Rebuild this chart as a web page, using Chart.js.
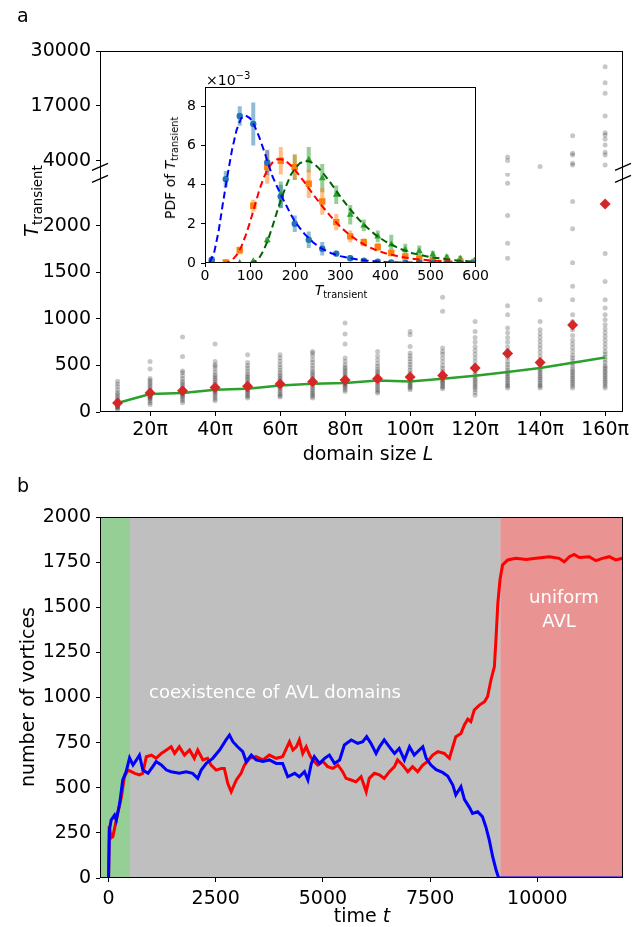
<!DOCTYPE html>
<html>
<head>
<meta charset="utf-8">
<script src="https://cdn.jsdelivr.net/npm/chart.js@4.4.1/dist/chart.umd.min.js"></script>
<style>
  body { margin: 0; background: #fff; }
  #page { position: relative; width: 635px; height: 927px; overflow: hidden; font-family: 'DejaVu Sans', sans-serif; }
  canvas { position: absolute; }
  .lbl { position: absolute; white-space: nowrap; line-height: 1; color: #000; }
  .rot { transform: translate(-50%, -50%) rotate(-90deg); }
  .ctr { transform: translateX(-50%); }
  .sub { position: relative; top: 0.3em; }
</style>
</head>
<body>
<div id="page">
  <canvas id="chartA" style="left:0;top:0" width="635" height="470"></canvas>
  <canvas id="chartInset" style="left:150px;top:60px" width="340" height="250"></canvas>
  <canvas id="chartB" style="left:0;top:470px" width="635" height="457"></canvas>

  <div class="lbl" style="left:17px;top:6px;font-size:19px">a</div>
  <div class="lbl" style="left:17px;top:476px;font-size:19px">b</div>

  <div class="lbl rot" style="left:31px;top:201px;font-size:19px"><i>T</i><span class="sub" style="font-size:13.3px">transient</span></div>
  <div class="lbl ctr" style="left:368px;top:444px;font-size:19px">domain size <i>L</i></div>

  <div class="lbl" style="left:206px;top:71px;font-size:14px">×10<sup style="font-size:10px">−3</sup></div>
  <div class="lbl rot" style="left:170px;top:168px;font-size:14px">PDF of <i>T</i><span class="sub" style="font-size:9.8px">transient</span></div>
  <div class="lbl ctr" style="left:341px;top:283px;font-size:14px"><i>T</i><span class="sub" style="font-size:9.8px">transient</span></div>

  <div class="lbl rot" style="left:27px;top:697px;font-size:19px">number of vortices</div>
  <div class="lbl ctr" style="left:362px;top:906px;font-size:19px">time <i>t</i></div>
  <div class="lbl ctr" style="left:275px;top:683px;font-size:18px;color:#fff">coexistence of AVL domains</div>
  <div class="lbl ctr" style="left:564px;top:588px;font-size:18px;color:#fff">uniform</div>
  <div class="lbl ctr" style="left:559px;top:612px;font-size:18px;color:#fff">AVL</div>
</div>

<script>
// ---- panel a: transient time vs domain size (L in units of pi) ----
const domainSizes = [10, 20, 30, 40, 50, 60, 70, 80, 90, 100, 110, 120, 130, 140, 150, 160];
const meanTransient = [96, 204, 228, 264, 275, 300, 325, 343, 357, 375, 392, 471, 628, 532, 932, 2232];
const trendTransient = [96, 193, 204, 239, 250, 285, 303, 311, 339, 328, 357, 389, 429, 471, 528, 585];
const runTransients = [
  [25, 40, 50, 60, 70, 80, 85, 95, 100, 110, 120, 130, 150, 170, 190, 210, 240, 270, 300, 330],
  [80, 100, 120, 140, 150, 160, 170, 180, 190, 200, 210, 220, 230, 240, 260, 280, 300, 320, 340, 360, 461, 542],
  [100, 120, 140, 160, 175, 190, 200, 210, 220, 235, 250, 270, 290, 310, 330, 360, 390, 420, 440, 596, 804],
  [120, 140, 160, 180, 200, 215, 230, 245, 260, 280, 300, 320, 340, 360, 380, 400, 430, 460, 490, 507, 542, 729],
  [150, 165, 180, 200, 215, 230, 245, 260, 275, 290, 310, 330, 350, 370, 390, 410, 440, 470, 500, 532, 614],
  [160, 175, 190, 210, 230, 250, 265, 280, 295, 310, 325, 340, 360, 380, 400, 425, 450, 480, 510, 545, 578, 614],
  [150, 165, 185, 200, 220, 240, 260, 280, 300, 315, 330, 345, 360, 380, 400, 420, 440, 470, 500, 530, 560, 600, 630, 650],
  [220, 240, 260, 275, 290, 305, 320, 335, 350, 365, 380, 400, 420, 440, 460, 480, 507, 542, 579, 729, 836, 954],
  [204, 220, 240, 260, 280, 300, 320, 340, 360, 380, 400, 420, 440, 460, 490, 520, 560, 600, 650],
  [240, 255, 270, 285, 300, 315, 330, 345, 360, 380, 400, 420, 450, 480, 510, 540, 570, 600, 632, 703, 829, 864],
  [250, 265, 280, 300, 315, 330, 345, 360, 380, 400, 420, 440, 470, 500, 540, 580, 620, 650, 686, 1080, 1230],
  [180, 210, 240, 260, 280, 300, 320, 340, 360, 380, 400, 430, 460, 500, 540, 580, 620, 660, 700, 750, 800, 864, 971],
  [257, 275, 290, 310, 330, 350, 370, 390, 410, 430, 450, 480, 510, 540, 580, 620, 660, 700, 750, 800, 850, 900, 1043, 1139, 1650, 1810, 2107, 2454, 2550, 4100, 4900],
  [257, 275, 290, 310, 330, 350, 370, 390, 410, 430, 450, 470, 500, 530, 560, 600, 640, 680, 720, 760, 800, 840, 882, 971, 1204, 2650],
  [257, 280, 300, 320, 340, 360, 380, 400, 420, 440, 460, 490, 520, 550, 580, 610, 650, 690, 730, 770, 820, 882, 971, 1043, 1204, 1350, 1600, 1965, 2257, 3050, 3460, 5420, 5820, 9980],
  [257, 280, 300, 320, 340, 360, 380, 400, 420, 440, 460, 480, 500, 530, 560, 590, 620, 650, 690, 730, 770, 810, 850, 890, 935, 989, 1043, 1115, 1204, 1400, 1700, 3050, 5420, 6060, 7780, 9200, 10150, 10690, 14640, 20000, 22500, 26290]
];
const sizeTicks = [20, 40, 60, 80, 100, 120, 140, 160];
const lowTicks = [0, 500, 1000, 1500, 2000];
const highTicks = [4000, 17000, 30000];

// ---- inset: PDFs of the transient time (units of 1e-3) ----
const pdfBins = [15, 46, 77, 107, 138, 168, 199, 230, 260, 291, 322, 352, 383, 413, 444, 475, 505, 536, 566, 597];
const pdfBlue = [0.17, 4.29, 7.52, 7.11, 5.14, 3.40, 2.01, 1.19, 0.73, 0.48, 0.24, 0.12, 0.07, 0.03, 0.02, 0.01, 0.01, 0, 0, 0];
const errBlue = [0.1, 0.42, 0.5, 1.1, 0.65, 0.6, 0.42, 0.42, 0.35, 0.15, 0.15, 0.1, 0.05, 0.05, 0.03, 0.03, 0.02, 0, 0, 0];
const pdfOrange = [0, 0.03, 0.65, 2.93, 4.9, 5.23, 4.9, 4.05, 3.15, 2.09, 1.36, 1.06, 0.82, 0.51, 0.34, 0.22, 0.15, 0.1, 0.07, 0.05];
const errOrange = [0, 0.05, 0.2, 0.3, 0.85, 0.7, 0.65, 0.72, 0.68, 0.42, 0.3, 0.2, 0.2, 0.15, 0.12, 0.1, 0.08, 0.08, 0.08, 0.08];
const pdfGreen = [0, 0, 0, 0.09, 1.16, 3.49, 4.9, 5.28, 4.34, 3.49, 2.47, 1.92, 1.36, 0.94, 0.68, 0.6, 0.43, 0.29, 0.22, 0.12];
const errGreen = [0, 0, 0, 0.05, 0.15, 0.68, 0.65, 0.65, 0.72, 0.47, 0.5, 0.3, 0.3, 0.5, 0.3, 0.3, 0.2, 0.15, 0.15, 0.1];
const fitT = [0, 10, 20, 30, 40, 50, 60, 70, 80, 90, 100, 110, 120, 130, 140, 150, 160, 170, 180, 190, 200, 210, 220, 230, 240, 250, 260, 280, 300, 320, 340, 360, 380, 400, 430, 460, 500, 550, 600];
const fitBlue = [null, 0.02, 0.5, 1.6, 3.1, 4.5, 5.8, 6.8, 7.4, 7.55, 7.4, 7.0, 6.45, 5.8, 5.1, 4.4, 3.9, 3.4, 2.95, 2.5, 2.1, 1.8, 1.5, 1.27, 1.05, 0.87, 0.72, 0.5, 0.35, 0.25, 0.17, 0.12, 0.08, 0.05, 0.03, 0.02, 0.01, 0, 0];
const fitRed = [null, null, null, null, 0, 0.03, 0.15, 0.4, 0.8, 1.4, 2.1, 2.9, 3.7, 4.35, 4.85, 5.15, 5.3, 5.3, 5.2, 5.0, 4.75, 4.45, 4.15, 3.82, 3.5, 3.2, 2.9, 2.35, 1.85, 1.45, 1.12, 0.85, 0.65, 0.5, 0.33, 0.22, 0.13, 0.06, 0.03];
const fitGreen = [null, null, null, null, null, null, null, null, null, null, 0, 0.05, 0.25, 0.65, 1.2, 1.9, 2.65, 3.35, 3.95, 4.5, 4.85, 5.1, 5.2, 5.2, 5.1, 4.9, 4.65, 4.05, 3.4, 2.8, 2.25, 1.8, 1.4, 1.1, 0.75, 0.5, 0.3, 0.15, 0.07];
const pdfTicksX = [0, 100, 200, 300, 400, 500, 600];
const pdfTicksY = [0, 2, 4, 6, 8];

// ---- panel b: vortex counts in time ----
const redTimes = [0, 15, 60, 100, 180, 300, 370, 450, 530, 610, 720, 800, 880, 1000, 1110, 1230, 1350, 1460, 1540, 1650, 1770, 1890, 2000, 2080, 2200, 2310, 2390, 2510, 2630, 2700, 2780, 2860, 2980, 3090, 3170, 3290, 3440, 3600, 3750, 3910, 4060, 4220, 4300, 4380, 4450, 4530, 4610, 4690, 4760, 4880, 5000, 5110, 5230, 5350, 5460, 5540, 5660, 5770, 5890, 6010, 6080, 6200, 6320, 6430, 6550, 6670, 6740, 6860, 6980, 7090, 7210, 7330, 7440, 7560, 7680, 7830, 7950, 8030, 8100, 8220, 8300, 8380, 8450, 8530, 8650, 8770, 8840, 8920, 9000, 9040, 9080, 9130, 9190, 9310, 9500, 9740, 9970, 10280, 10510, 10630, 10750, 10860, 10980, 11210, 11370, 11520, 11680, 11830, 11990];
const redCounts = [0, 288, 222, 229, 321, 450, 561, 598, 589, 580, 571, 580, 672, 681, 663, 690, 709, 727, 690, 727, 681, 709, 663, 709, 654, 663, 626, 598, 607, 607, 524, 478, 543, 580, 626, 663, 672, 654, 681, 663, 672, 755, 709, 727, 765, 690, 727, 681, 654, 626, 645, 617, 607, 626, 589, 552, 543, 533, 561, 478, 552, 580, 571, 552, 589, 617, 654, 626, 589, 617, 589, 626, 645, 681, 700, 690, 663, 727, 783, 801, 848, 880, 866, 931, 958, 977, 1004, 1097, 1171, 1337, 1522, 1651, 1734, 1762, 1771, 1765, 1771, 1780, 1771, 1752, 1780, 1793, 1776, 1780, 1758, 1771, 1780, 1762, 1771];
const blueTimes = [0, 20, 60, 140, 180, 260, 330, 410, 490, 570, 650, 720, 800, 920, 1030, 1110, 1230, 1350, 1460, 1650, 1810, 1960, 2080, 2160, 2280, 2430, 2590, 2740, 2820, 2900, 3010, 3130, 3210, 3330, 3440, 3600, 3750, 3910, 4060, 4180, 4340, 4450, 4570, 4650, 4730, 4800, 4920, 5040, 5150, 5270, 5390, 5500, 5660, 5810, 5930, 6020, 6120, 6240, 6320, 6430, 6550, 6670, 6780, 6900, 7020, 7130, 7250, 7330, 7410, 7520, 7640, 7790, 7910, 8030, 8100, 8220, 8300, 8420, 8490, 8610, 8720, 8800, 8880, 8960, 9040, 9100, 12000];
const blueCounts = [0, 266, 321, 349, 321, 415, 543, 589, 665, 626, 654, 681, 598, 580, 617, 645, 626, 598, 589, 580, 589, 580, 552, 598, 635, 663, 709, 765, 792, 755, 727, 700, 645, 681, 654, 645, 654, 635, 635, 561, 580, 561, 589, 543, 635, 672, 635, 663, 681, 635, 654, 737, 765, 746, 755, 783, 746, 690, 727, 765, 727, 690, 718, 654, 727, 681, 709, 727, 663, 626, 600, 585, 565, 515, 460, 506, 436, 390, 358, 367, 340, 284, 211, 118, 44, 0, 0];
const phaseStarts = [-200, 500, 9140];
const phaseEnds = [500, 9140, 12000];
const phaseColors = ['rgba(44,160,44,0.5)', 'rgba(128,128,128,0.5)', 'rgba(214,39,40,0.5)'];
const timeTicks = [0, 2500, 5000, 7500, 10000];
const countTicks = [0, 250, 500, 750, 1000, 1250, 1500, 1750, 2000];

// ---- shared helpers ----
const FONT = 'DejaVu Sans';
const useTicks = vals => scale => { scale.ticks = vals.map(v => ({ value: v })); };
const tickGrid = { drawOnChartArea: false, drawTicks: true, tickLength: 4, color: '#000', lineWidth: 1 };

const frame = {
  id: 'frame',
  afterDraw(chart) {
    const { ctx, chartArea: a } = chart;
    ctx.save();
    ctx.strokeStyle = '#000';
    ctx.lineWidth = 1;
    ctx.strokeRect(Math.round(a.left) + 0.5, Math.round(a.top) + 0.5,
      Math.round(a.right - a.left) - 1, Math.round(a.bottom - a.top) - 1);
    ctx.restore();
  }
};

// diagonal "//" marks where the y axis jumps
const axisBreak = {
  id: 'axisBreak',
  afterDraw(chart) {
    const { ctx, chartArea: a } = chart;
    const yb = chart.scales.yHigh.bottom;
    ctx.save();
    ctx.strokeStyle = '#000';
    ctx.lineWidth = 1.3;
    [a.left, a.right].forEach(x => {
      [yb - 6, yb + 6].forEach(y => {
        ctx.beginPath();
        ctx.moveTo(x - 8, y + 3.5);
        ctx.lineTo(x + 8, y - 3.5);
        ctx.stroke();
      });
    });
    ctx.restore();
  }
};

const whiteBack = {
  id: 'whiteBack',
  beforeDraw(chart) {
    const { ctx, chartArea: a } = chart;
    ctx.save();
    ctx.fillStyle = '#fff';
    ctx.fillRect(a.left, a.top, a.right - a.left, a.bottom - a.top);
    ctx.restore();
  }
};

const phaseBands = {
  id: 'phaseBands',
  beforeDatasetsDraw(chart) {
    const { ctx, chartArea: a, scales: { x } } = chart;
    ctx.save();
    phaseStarts.forEach((t0, i) => {
      const x0 = Math.max(a.left, x.getPixelForValue(t0));
      const x1 = Math.min(a.right, x.getPixelForValue(phaseEnds[i]));
      ctx.fillStyle = phaseColors[i];
      ctx.fillRect(x0, a.top, x1 - x0, a.bottom - a.top);
    });
    ctx.restore();
  }
};

Chart.defaults.font.family = FONT;
Chart.defaults.color = '#000';
Chart.defaults.animation = false;
Chart.defaults.plugins.legend.display = false;
Chart.defaults.plugins.tooltip.enabled = false;

// ---- panel a ----
const LOW_MAX = 2565;
const lowRuns = [], highRuns = [];
runTransients.forEach((runs, i) => runs.forEach(v => {
  (v <= LOW_MAX ? lowRuns : highRuns).push({ x: domainSizes[i], y: v });
}));

new Chart(document.getElementById('chartA'), {
  type: 'scatter',
  data: {
    datasets: [
      { data: meanTransient.map((v, i) => ({ x: domainSizes[i], y: v })), yAxisID: 'yLow',
        pointStyle: 'rectRot', pointRadius: 5.5, backgroundColor: '#d62728', borderWidth: 0, order: 1 },
      { type: 'line', data: trendTransient.map((v, i) => ({ x: domainSizes[i], y: v })), yAxisID: 'yLow',
        borderColor: '#2ca02c', borderWidth: 2.5, pointRadius: 0, tension: 0, order: 2 },
      { data: lowRuns, yAxisID: 'yLow', pointRadius: 2.5, backgroundColor: 'rgba(0,0,0,0.22)', borderWidth: 0, order: 3 },
      { data: highRuns, yAxisID: 'yHigh', pointRadius: 2.5, backgroundColor: 'rgba(0,0,0,0.22)', borderWidth: 0, order: 3 }
    ]
  },
  options: {
    responsive: false,
    devicePixelRatio: 1,
    layout: { padding: { top: 51, right: 12, left: 0, bottom: 0 } },
    scales: {
      x: {
        type: 'linear', min: 4.6, max: 165.5,
        afterBuildTicks: useTicks(sizeTicks),
        afterFit: s => { s.height = 58; },
        ticks: { font: { size: 19 }, padding: 3, maxRotation: 0, callback: v => v + 'π' },
        grid: tickGrid, border: { display: false }
      },
      yLow: {
        type: 'linear', position: 'left', stack: 'tt', stackWeight: 239.3, min: 0, max: LOW_MAX,
        afterBuildTicks: useTicks(lowTicks),
        afterFit: s => { s.width = 100; },
        ticks: { font: { size: 19 }, padding: 5, callback: v => String(v) },
        grid: tickGrid, border: { display: false }
      },
      yHigh: {
        type: 'linear', position: 'left', stack: 'tt', stackWeight: 122, min: 1164, max: 30000,
        afterBuildTicks: useTicks(highTicks),
        afterFit: s => { s.width = 100; },
        ticks: { font: { size: 19 }, padding: 5, callback: v => String(v) },
        grid: tickGrid, border: { display: false }
      }
    }
  },
  plugins: [frame, axisBreak]
});

// ---- inset ----
const errorSegments = (vals, errs) => {
  const pts = [];
  pdfBins.forEach((x, i) => {
    pts.push({ x, y: vals[i] - errs[i] }, { x, y: vals[i] + errs[i] }, { x, y: null });
  });
  return pts;
};
const toPoints = (xs, ys) => xs.map((x, i) => ({ x, y: ys[i] }));

new Chart(document.getElementById('chartInset'), {
  type: 'line',
  data: {
    datasets: [
      { data: toPoints(fitT, fitBlue), borderColor: '#0000ff', borderDash: [7, 4], borderWidth: 2, pointRadius: 0, order: 0 },
      { data: toPoints(fitT, fitRed), borderColor: '#ff0000', borderDash: [7, 4], borderWidth: 2, pointRadius: 0, order: 0 },
      { data: toPoints(fitT, fitGreen), borderColor: '#006400', borderDash: [7, 4], borderWidth: 2, pointRadius: 0, order: 0 },
      { data: toPoints(pdfBins, pdfBlue), showLine: false, pointStyle: 'circle', pointRadius: 3.2, backgroundColor: '#1f77b4', borderWidth: 0, order: 1 },
      { data: toPoints(pdfBins, pdfOrange), showLine: false, pointStyle: 'rect', pointRadius: 4.5, backgroundColor: '#ff7f0e', borderWidth: 0, order: 1 },
      { data: toPoints(pdfBins, pdfGreen), showLine: false, pointStyle: 'triangle', pointRadius: 4, backgroundColor: '#2ca02c', borderWidth: 0, order: 1 },
      { data: errorSegments(pdfBlue, errBlue), borderColor: 'rgba(31,119,180,0.5)', borderWidth: 4, pointRadius: 0, spanGaps: false, order: 2 },
      { data: errorSegments(pdfOrange, errOrange), borderColor: 'rgba(255,127,14,0.5)', borderWidth: 4, pointRadius: 0, spanGaps: false, order: 2 },
      { data: errorSegments(pdfGreen, errGreen), borderColor: 'rgba(44,160,44,0.5)', borderWidth: 4, pointRadius: 0, spanGaps: false, order: 2 }
    ]
  },
  options: {
    responsive: false,
    devicePixelRatio: 1,
    layout: { padding: { top: 27, right: 12, left: 0, bottom: 0 } },
    scales: {
      x: {
        type: 'linear', min: 0, max: 600,
        afterBuildTicks: useTicks(pdfTicksX),
        afterFit: s => { s.height = 47; },
        ticks: { font: { size: 14 }, padding: 1, maxRotation: 0, callback: v => String(v) },
        grid: tickGrid, border: { display: false }
      },
      y: {
        type: 'linear', min: 0, max: 9.0,
        afterBuildTicks: useTicks(pdfTicksY),
        afterFit: s => { s.width = 55; },
        ticks: { font: { size: 14 }, padding: 5, callback: v => String(v) },
        grid: tickGrid, border: { display: false }
      }
    }
  },
  plugins: [whiteBack, frame]
});

// ---- panel b ----
new Chart(document.getElementById('chartB'), {
  type: 'line',
  data: {
    datasets: [
      { data: toPoints(blueTimes, blueCounts), borderColor: '#0000ff', borderWidth: 3, pointRadius: 0, tension: 0, order: 0 },
      { data: toPoints(redTimes, redCounts), borderColor: '#ff0000', borderWidth: 3, pointRadius: 0, tension: 0, order: 1 }
    ]
  },
  options: {
    responsive: false,
    devicePixelRatio: 1,
    layout: { padding: { top: 47, right: 12, left: 0, bottom: 0 } },
    scales: {
      x: {
        type: 'linear', min: -200, max: 12000,
        afterBuildTicks: useTicks(timeTicks),
        afterFit: s => { s.height = 49; },
        ticks: { font: { size: 19 }, padding: 6, maxRotation: 0, callback: v => String(v) },
        grid: tickGrid, border: { display: false }
      },
      y: {
        type: 'linear', min: 0, max: 2000,
        afterBuildTicks: useTicks(countTicks),
        afterFit: s => { s.width = 100; },
        ticks: { font: { size: 19 }, padding: 5, callback: v => String(v) },
        grid: tickGrid, border: { display: false }
      }
    }
  },
  plugins: [phaseBands, frame]
});
</script>
</body>
</html>
